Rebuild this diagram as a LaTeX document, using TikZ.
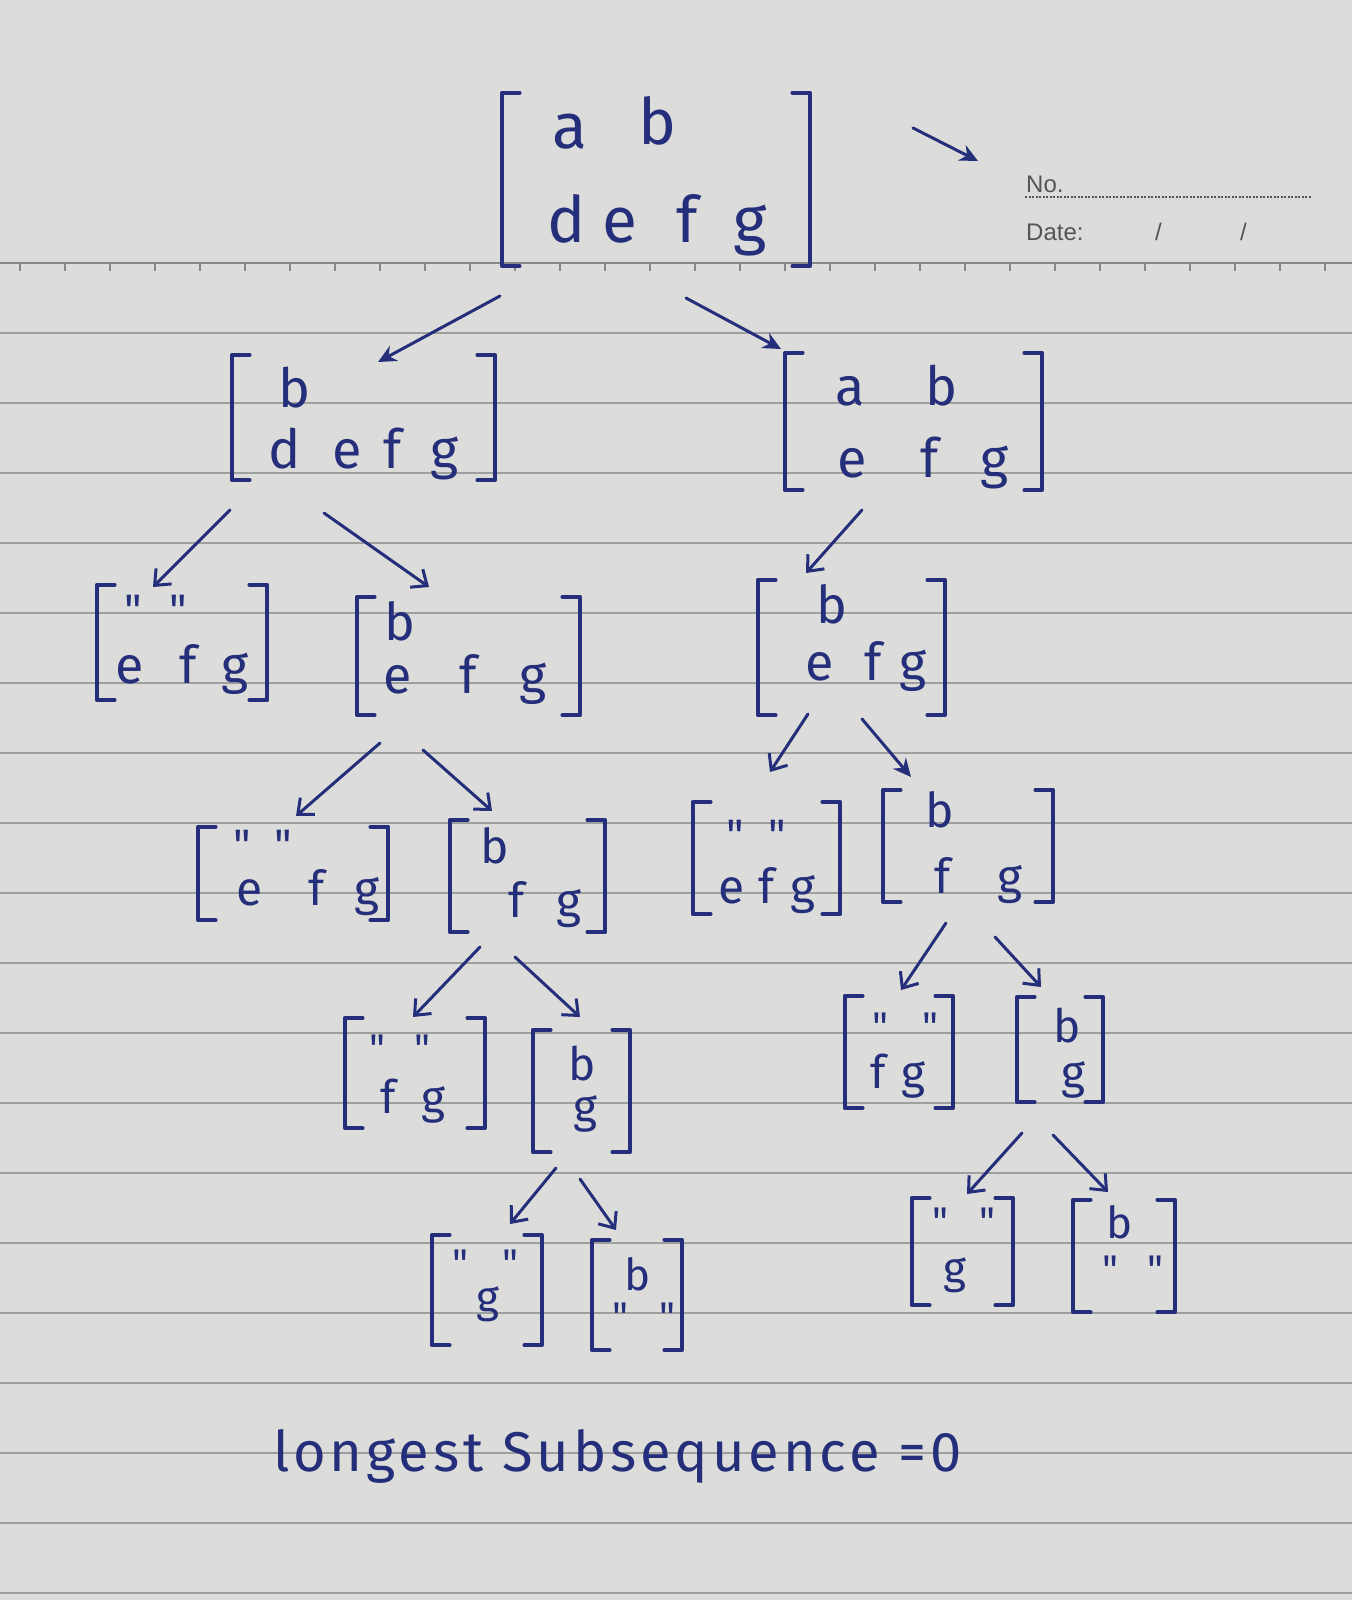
\documentclass[tikz,border=0pt]{standalone}
\usepackage{fontspec}
\setmainfont{Fira Sans}
\newfontfamily\qfont{Fira Sans}[Ligatures=TeXOff]
\newfontfamily\hdrfont{Liberation Sans}
\usetikzlibrary{arrows.meta}
\definecolor{ink}{RGB}{36,46,122}
\definecolor{paper}{RGB}{220,221,218}
\definecolor{rulec}{RGB}{158,160,160}
\definecolor{hdrc}{RGB}{85,85,85}
\tikzset{
  box/.style={inner sep=0pt, draw=none},
  brk/.style={draw=ink, line width=3.5pt, line cap=round, line join=round},
  ch/.style={text=ink, inner sep=0pt, anchor=base, font=\fontsize{#1}{#1}\selectfont},
  ch/.default=50,
  qt/.style={text=ink, inner sep=0pt, anchor=base, font=\qfont\fontsize{#1}{#1}\selectfont},
  qt/.default=40,
  arr/.style={draw=ink, line width=3pt, line cap=round, -{Straight Barb[length=13pt,width=22pt,line width=3pt]}},
  arrf/.style={draw=ink, line width=3pt, line cap=round, -{Stealth[length=18pt,width=17pt]}},
  ruleline/.style={draw=rulec, line width=1.5pt},
  hdrline/.style={draw=rulec!85!black, line width=1.8pt},
  hdrtxt/.style={text=hdrc, inner sep=0pt, anchor=base west, font=\hdrfont\fontsize{24}{24}\selectfont}
}
\newcommand\matbox[5]{%
  \node[box, minimum width={#3-#2}, minimum height={#5-#4}] (#1) at ({(#2+#3)/2},{(#4+#5)/2}) {};
  \draw[brk] ([xshift=18pt]#1.north west) -- (#1.north west) -- (#1.south west) -- ([xshift=18pt]#1.south west);
  \draw[brk] ([xshift=-18pt]#1.north east) -- (#1.north east) -- (#1.south east) -- ([xshift=-18pt]#1.south east);
}
\begin{document}
\begin{tikzpicture}[x=1pt,y=-1pt]
\fill[paper] (0,0) rectangle (1352,1600);
\useasboundingbox (0,0) rectangle (1352,1600);
% ruled paper
\foreach \k in {1,...,19} \draw[ruleline] (0,{263+70*\k}) -- (1352,{263+70*\k});
\draw[hdrline] (0,263) -- (1352,263);
\foreach \t in {20,65,...,1340} \draw[hdrline] (\t,263) -- (\t,271);
% header
\node[hdrtxt] (no) at (1026,192) {No.};
\draw[draw=hdrc, line width=1.4pt, dash pattern=on 2pt off 1.5pt] (1025,197) -- (1312,197);
\node[hdrtxt] (date) at (1026,240) {Date:};
\node[hdrtxt] (sl1) at (1155,240) {/};
\node[hdrtxt] (sl2) at (1240,240) {/};
% stray arrow
\coordinate (s1) at (913,128);
\coordinate (s2) at (978,161);
\draw[arrf] (s1) -- (s2);

% matrices
\matbox{root}{502}{810}{93}{266}
\node[ch=64] (root-a) at (570,148) {a};
\node[ch=64] (root-b) at (657,144) {b};
\node[ch=64] (root-d) at (567,242) {d};
\node[ch=64] (root-e) at (620,242) {e};
\node[ch=64] (root-f) at (687,242) {f};
\node[ch=64] (root-g) at (750,242) {g};

\matbox{L}{232}{495}{355}{480}
\node[ch=54] (L-b) at (295,407) {b};
\node[ch=54] (L-d) at (285,468) {d};
\node[ch=54] (L-e) at (347,468) {e};
\node[ch=54] (L-f) at (393,468) {f};
\node[ch=54] (L-g) at (445,468) {g};

\matbox{R}{785}{1042}{353}{490}
\node[ch=54] (R-a) at (850,405) {a};
\node[ch=54] (R-b) at (942,405) {b};
\node[ch=54] (R-e) at (852,477) {e};
\node[ch=54] (R-f) at (930,477) {f};
\node[ch=54] (R-g) at (995,477) {g};

\matbox{LL}{97}{267}{585}{700}
\node[qt=44] (LL-q1) at (133,625) {"};
\node[qt=44] (LL-q2) at (178,625) {"};
\node[ch=52] (LL-e) at (130,683) {e};
\node[ch=52] (LL-f) at (188,683) {f};
\node[ch=52] (LL-g) at (235,683) {g};

\matbox{LR}{357}{580}{597}{715}
\node[ch=52] (LR-b) at (400,640) {b};
\node[ch=52] (LR-e) at (398,693) {e};
\node[ch=52] (LR-f) at (468,693) {f};
\node[ch=52] (LR-g) at (533,693) {g};

\matbox{RC}{758}{945}{580}{715}
\node[ch=52] (RC-b) at (832,623) {b};
\node[ch=52] (RC-e) at (820,680) {e};
\node[ch=52] (RC-f) at (873,680) {f};
\node[ch=52] (RC-g) at (913,680) {g};

\matbox{LA}{198}{388}{827}{920}
\node[qt=44] (LA-q1) at (242,860) {"};
\node[qt=44] (LA-q2) at (283,860) {"};
\node[ch=48] (LA-e) at (250,905) {e};
\node[ch=48] (LA-f) at (317,905) {f};
\node[ch=48] (LA-g) at (367,905) {g};

\matbox{LB}{450}{605}{820}{932}
\node[ch=48] (LB-b) at (495,863) {b};
\node[ch=48] (LB-f) at (517,917) {f};
\node[ch=48] (LB-g) at (569,917) {g};

\matbox{LC}{693}{840}{802}{914}
\node[qt=44] (LC-q1) at (735,850) {"};
\node[qt=44] (LC-q2) at (777,850) {"};
\node[ch=48] (LC-e) at (732,903) {e};
\node[ch=48] (LC-f) at (767,903) {f};
\node[ch=48] (LC-g) at (803,903) {g};

\matbox{LD}{883}{1053}{790}{902}
\node[ch=48] (LD-b) at (940,827) {b};
\node[ch=48] (LD-f) at (943,893) {f};
\node[ch=48] (LD-g) at (1010,893) {g};

\matbox{FA}{345}{485}{1018}{1128}
\node[qt] (FA-q1) at (377,1062) {"};
\node[qt] (FA-q2) at (422,1062) {"};
\node[ch=46] (FA-f) at (388,1113) {f};
\node[ch=46] (FA-g) at (433,1113) {g};

\matbox{FB}{533}{630}{1030}{1152}
\node[ch=46] (FB-b) at (582,1080) {b};
\node[ch=46] (FB-g) at (585,1122) {g};

\matbox{FC}{845}{953}{996}{1108}
\node[qt] (FC-q1) at (880,1040) {"};
\node[qt] (FC-q2) at (930,1040) {"};
\node[ch=46] (FC-f) at (878,1088) {f};
\node[ch=46] (FC-g) at (913,1088) {g};

\matbox{FD}{1017}{1103}{997}{1102}
\node[ch=46] (FD-b) at (1067,1042) {b};
\node[ch=46] (FD-g) at (1073,1088) {g};

\matbox{SA}{432}{542}{1235}{1345}
\node[qt] (SA-q1) at (460,1277) {"};
\node[qt] (SA-q2) at (510,1277) {"};
\node[ch=44] (SA-g) at (488,1312) {g};

\matbox{SB}{592}{682}{1240}{1350}
\node[ch=44] (SB-b) at (638,1290) {b};
\node[qt] (SB-q1) at (620,1330) {"};
\node[qt] (SB-q2) at (667,1330) {"};

\matbox{SC}{912}{1013}{1198}{1305}
\node[qt] (SC-q1) at (940,1235) {"};
\node[qt] (SC-q2) at (987,1235) {"};
\node[ch=44] (SC-g) at (955,1283) {g};

\matbox{SD}{1073}{1175}{1200}{1312}
\node[ch=44] (SD-b) at (1120,1238) {b};
\node[qt] (SD-q1) at (1110,1283) {"};
\node[qt] (SD-q2) at (1155,1283) {"};

% connectors
\draw[arrf] ([shift={(-156,116.5)}]root.center) -- ([shift={(14.5,-55.5)}]L.center);
\draw[arrf] ([shift={(30,118.5)}]root.center) -- ([shift={(-132.5,-72.5)}]R.center);
\draw[arr] ([shift={(-133.5,92.5)}]L.center) -- ([shift={(-29,-55.5)}]LL.center);
\draw[arr] ([shift={(-39.5,95.5)}]L.center) -- ([shift={(-39.5,-69)}]LR.center);
\draw[arr] ([shift={(-51.5,88.5)}]R.center) -- ([shift={(-45.5,-74.5)}]RC.center);
\draw[arr] ([shift={(-88.5,87)}]LR.center) -- ([shift={(3,-57.5)}]LA.center);
\draw[arr] ([shift={(-45.5,94)}]LR.center) -- ([shift={(-35.5,-65)}]LB.center);
\draw[arr] ([shift={(-43.5,66.5)}]RC.center) -- ([shift={(3.5,-86)}]LC.center);
\draw[arrf] ([shift={(10.5,71.5)}]RC.center) -- ([shift={(-57,-69)}]LD.center);
\draw[arr] ([shift={(-47.5,71)}]LB.center) -- ([shift={(-2,-56)}]FA.center);
\draw[arr] ([shift={(-12.5,81)}]LB.center) -- ([shift={(-1.5,-74)}]FB.center);
\draw[arr] ([shift={(-22,77)}]LD.center) -- ([shift={(2,-62)}]FC.center);
\draw[arr] ([shift={(27,91)}]LD.center) -- ([shift={(-19,-62.5)}]FD.center);
\draw[arr] ([shift={(-25.5,77)}]FB.center) -- ([shift={(23,-66)}]SA.center);
\draw[arr] ([shift={(-1.5,88)}]FB.center) -- ([shift={(-21,-65)}]SB.center);
\draw[arr] ([shift={(-38,83.5)}]FD.center) -- ([shift={(4.5,-57.5)}]SC.center);
\draw[arr] ([shift={(-7,85.5)}]FD.center) -- ([shift={(-16,-64)}]SD.center);

% result
\node[ch=56, anchor=base west] (res) at (273,1471) {\addfontfeature{LetterSpace=7}longest Subsequence =0};
\end{tikzpicture}
\end{document}
